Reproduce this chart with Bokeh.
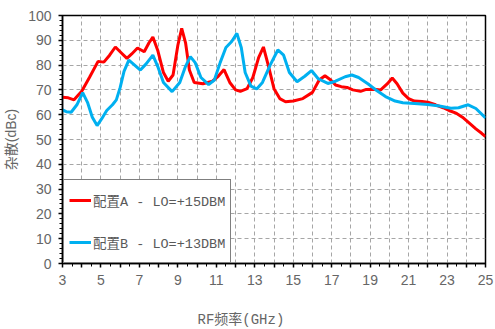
from bokeh.plotting import figure
from bokeh.models import FixedTicker, Legend, LegendItem, Title, Range1d
from bokeh.embed import file_html
from bokeh.resources import INLINE

# Data
red_x = [3.0, 3.3, 3.6, 4.0, 4.4, 4.85, 5.15, 5.45, 5.75, 6.05, 6.35, 6.6, 6.9, 7.25, 7.5, 7.7, 7.95,
         8.25, 8.5, 8.75, 9.0, 9.2, 9.4, 9.6, 9.85, 10.3, 10.8, 11.1, 11.4, 11.7, 12.0, 12.25, 12.6,
         12.9, 13.2, 13.45, 13.7, 14.0, 14.3, 14.6, 15.0, 15.5, 16.0, 16.35, 16.65, 16.95, 17.2, 17.5,
         17.8, 18.1, 18.5, 18.8, 19.2, 19.55, 19.9, 20.15, 20.4, 20.7, 21.0, 21.3, 21.7, 22.0, 22.4,
         22.8, 23.1, 23.5, 23.8, 24.1, 24.5, 24.8, 25.0]
red_y = [67.0, 66.8, 66.0, 69.5, 75.0, 81.5, 81.2, 84.0, 87.3, 85.0, 82.7, 84.5, 86.9, 85.4, 89.0, 91.3, 86.0,
         77.0, 73.5, 76.0, 88.0, 94.8, 89.0, 78.0, 73.0, 72.5, 73.5, 75.5, 78.2, 73.0, 70.0, 69.4, 70.5,
         75.0, 83.0, 87.3, 80.0, 70.5, 66.5, 65.2, 65.5, 66.5, 69.0, 74.0, 75.7, 74.0, 72.0, 71.3,
         71.0, 70.0, 69.4, 70.2, 70.3, 70.0, 72.5, 74.8, 72.5, 68.7, 66.5, 65.5, 65.3, 65.0, 64.0,
         62.8, 61.7, 60.5, 59.0, 57.0, 54.3, 52.5, 51.2]

blue_x = [3.0, 3.2, 3.45, 3.75, 4.05, 4.3, 4.55, 4.8, 5.05, 5.3, 5.6, 5.8, 6.0, 6.2, 6.45, 6.75, 7.05,
          7.35, 7.7, 7.95, 8.25, 8.7, 9.1, 9.4, 9.65, 9.9, 10.2, 10.6, 10.9, 11.2, 11.5, 11.8, 12.07,
          12.3, 12.5, 12.8, 13.1, 13.4, 13.8, 14.2, 14.5, 14.8, 15.2, 15.6, 15.95, 16.3, 16.8, 17.2,
          17.7, 18.05, 18.4, 18.9, 19.3, 19.8, 20.3, 20.7, 21.3, 22.0, 22.6, 23.2, 23.6, 24.1, 24.5, 25.0]
blue_y = [61.9, 61.2, 61.0, 64.0, 68.9, 65.0, 59.0, 55.6, 58.5, 61.7, 64.0, 66.0, 71.0, 77.5, 82.0, 80.0, 78.0,
          80.5, 84.0, 79.5, 73.0, 69.3, 73.0, 79.5, 83.4, 81.0, 75.0, 72.1, 74.0, 81.0, 87.1, 89.5, 92.8,
          87.0, 77.0, 71.5, 70.4, 73.0, 80.0, 86.1, 84.0, 77.0, 73.3, 75.5, 77.8, 74.5, 72.6, 73.5,
          75.3, 76.0, 75.0, 72.4, 70.0, 67.3, 65.5, 64.8, 64.5, 64.1, 63.5, 62.6, 62.8, 64.0, 62.5, 58.7]

series_names = ["配置A - LO=+15DBM", "配置B - LO=+13DBM"]
x_ticks = list(range(3, 26))
x_minor = [3 + 0.5 * i for i in range(45)]
y_ticks = list(range(0, 101, 10))
y_minor = list(range(0, 101, 2))
x_label = "RF频率(GHz)"
y_label = "杂散(dBc)"

mono = "'Liberation Mono', 'Noto Sans CJK SC'"
sans = "'Liberation Sans', 'Noto Sans CJK SC'"
gray = "#666666"

p = figure(width=495, height=329, output_backend="svg", toolbar_location=None,
           x_range=Range1d(3, 25), y_range=Range1d(0, 100),
           min_border_left=62, min_border_right=10, min_border_top=15, min_border_bottom=66)
p.outline_line_color = "black"
p.outline_line_width = 1.5
p.background_fill_color = "white"
p.border_fill_color = "white"

# axes
p.xaxis.ticker = FixedTicker(ticks=x_ticks, minor_ticks=x_minor)
p.xaxis.major_label_overrides = {t: (str(t) if t % 2 == 1 else "") for t in x_ticks}
p.yaxis.ticker = FixedTicker(ticks=y_ticks, minor_ticks=y_minor)
for ax in (p.xaxis[0], p.yaxis[0]):
    ax.axis_line_color = "black"
    ax.axis_line_width = 1.5
    ax.major_tick_line_color = "black"
    ax.minor_tick_line_color = "black"
    ax.major_tick_line_width = 1.5
    ax.minor_tick_line_width = 1
    ax.major_tick_out = 4
    ax.major_tick_in = 0
    ax.minor_tick_out = 3
    ax.minor_tick_in = 0
    ax.major_label_text_color = gray
    ax.major_label_text_font = sans
    ax.major_label_text_font_size = "14px"
    ax.major_label_standoff = 7

p.yaxis.axis_label = y_label
p.yaxis.axis_label_text_font = sans
p.yaxis.axis_label_text_font_style = "normal"
p.yaxis.axis_label_text_font_size = "14px"
p.yaxis.axis_label_text_color = gray
p.yaxis.axis_label_standoff = 6

# grid
for g in (p.xgrid[0], p.ygrid[0]):
    g.grid_line_color = "#a6a6a6"
    g.grid_line_dash = "4 3"
    g.grid_line_width = 1
p.xgrid.ticker = FixedTicker(ticks=x_ticks)
p.ygrid.ticker = FixedTicker(ticks=y_ticks)

r1 = p.line(red_x, red_y, line_color="#ff0000", line_width=3)
r2 = p.line(blue_x, blue_y, line_color="#00b0f0", line_width=3)

legend = Legend(items=[LegendItem(label=series_names[0], renderers=[r1]),
                       LegendItem(label=series_names[1], renderers=[r2])],
                location=(1, 0), margin=0, padding=5, spacing=12,
                label_height=30, glyph_height=30, glyph_width=22, label_standoff=2,
                label_text_font=mono, label_text_font_size="13.5px", label_text_color="#595959",
                border_line_color="black", border_line_width=1.5, background_fill_alpha=1)
p.add_layout(legend, "center")

xt = Title(text=x_label, align="left", offset=135, standoff=0, padding=(0, 0, 22, 0),
           text_font=mono, text_font_size="14px", text_font_style="normal", text_color=gray)
p.add_layout(xt, "below")

open("out.html", "w").write(file_html(p, INLINE))
